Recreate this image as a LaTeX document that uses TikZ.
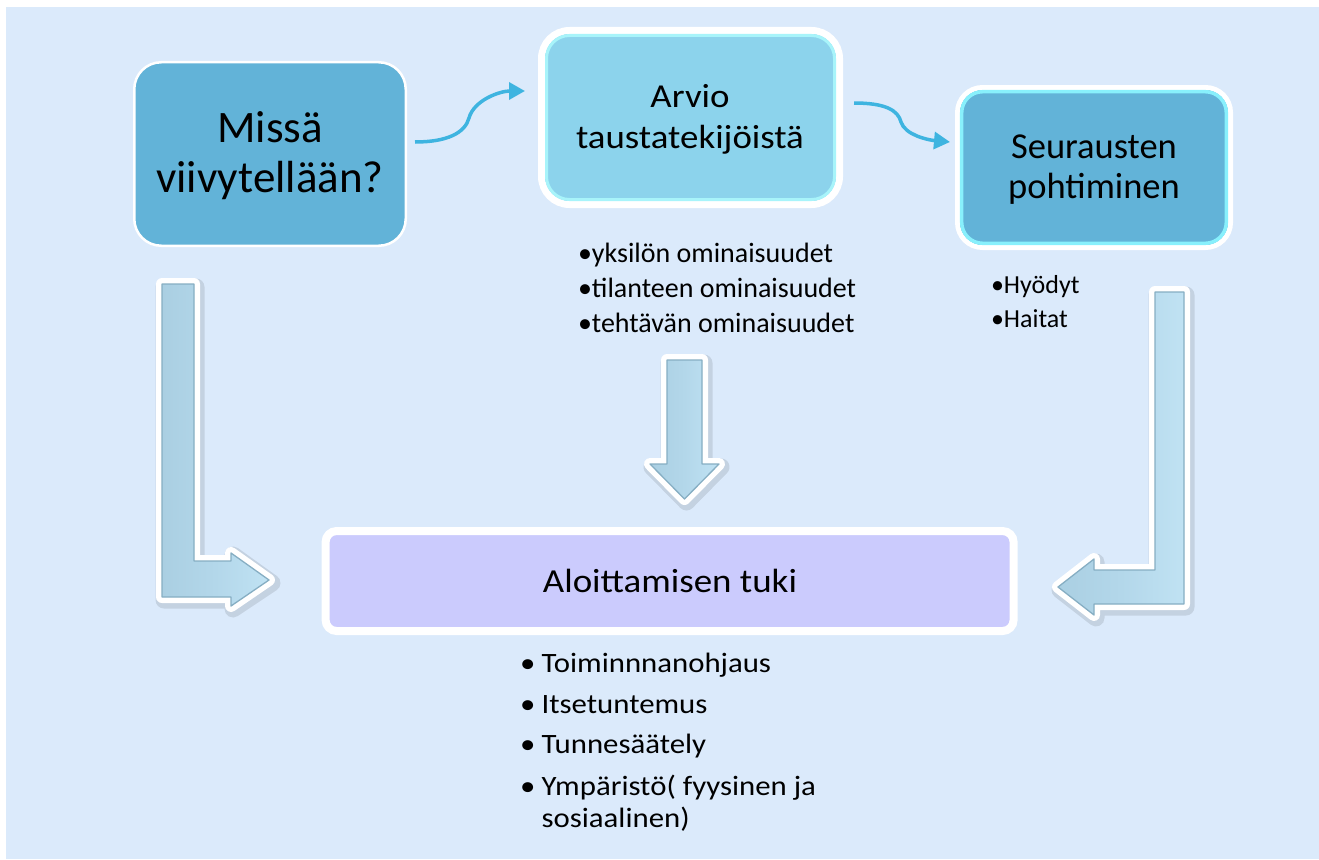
\documentclass[tikz,border=0pt]{standalone}
\usepackage{fontspec}
\setmainfont{Carlito}
\newfontfamily\widefont[FakeStretch=1.1]{Carlito}
\usetikzlibrary{arrows.meta}
\definecolor{bgc}{HTML}{DBEAFB}
\definecolor{darkbox}{HTML}{62B3D8}
\definecolor{lightbox}{HTML}{8CD3EC}
\definecolor{violetbox}{HTML}{CBCBFD}
\definecolor{glowa}{HTML}{A8F4FA}
\definecolor{glowb}{HTML}{88F0FC}
\definecolor{curvecol}{HTML}{3EB4E0}
\definecolor{blockmid}{HTML}{B3D7EA}
\definecolor{blockleft}{HTML}{AACFE2}
\definecolor{blockright}{HTML}{C0E2F3}
\definecolor{blockdark}{HTML}{86AEC3}
\tikzset{
  boxshape/.style={rectangle, outer sep=0pt, inner sep=0pt, draw=white},
  lbl/.style={anchor=base, inner sep=0pt, outer sep=0pt, text=black},
  lst/.style={anchor=base west, inner sep=0pt, outer sep=0pt, text=black},
  curvearrow/.style={draw=curvecol, line width=3.5pt, -{Triangle[length=16pt,width=17pt]}},
  blockshadow/.style={draw=black, opacity=0.10, line width=17pt, line join=round},
  blockrim/.style={draw=white, line width=12pt, line join=round},
  blockbody/.style={left color=blockleft, right color=blockright, middle color=blockmid, draw=blockdark, line width=1.3pt, line join=round},
}
\begin{document}
\begin{tikzpicture}[x=1pt,y=-1pt]
\useasboundingbox (0,0) rectangle (1319,859);
\fill[white] (0,0) rectangle (1319,859);
\fill[bgc] (6,7) rectangle (1319,859);

% boxes
\node[boxshape, fill=darkbox, line width=2.5pt, rounded corners=27pt,
      minimum width=271.5pt, minimum height=183.5pt] (b1) at (270,154) {};
\node[boxshape, fill=lightbox, line width=7pt, rounded corners=28pt,
      minimum width=298pt, minimum height=174pt] (b2) at (690.5,117.5) {};
\draw[glowa, line width=3pt, rounded corners=23pt]
  ([shift={(5,5)}]b2.north west) rectangle ([shift={(-5,-5)}]b2.south east);
\node[boxshape, fill=darkbox, line width=5pt, rounded corners=25pt,
      minimum width=273pt, minimum height=160pt] (b3) at (1094,167.5) {};
\draw[glowb, line width=3.5pt, rounded corners=21pt]
  ([shift={(4.2,4.2)}]b3.north west) rectangle ([shift={(-4.2,-4.2)}]b3.south east);
\node[boxshape, fill=violetbox, line width=8pt, rounded corners=11pt,
      minimum width=688pt, minimum height=100pt] (b4) at (669.6,581) {};

% box texts
\node[lbl, font=\fontsize{45}{50}\selectfont] (t1a) at (270,142) {Missä};
\node[lbl, font=\fontsize{45}{50}\selectfont] (t1b) at (270,192) {viivytellään?};
\node[lbl, font=\widefont\fontsize{33.5}{40}\selectfont] (t2a) at (690,107) {Arvio};
\node[lbl, font=\widefont\fontsize{33.5}{40}\selectfont] (t2b) at (690,148) {taustatekijöistä};
\node[lbl, font=\fontsize{36.5}{40}\selectfont] (t3a) at (1094,158) {Seurausten};
\node[lbl, font=\fontsize{36.5}{40}\selectfont] (t3b) at (1094,198) {pohtiminen};
\node[lbl, font=\widefont\fontsize{33.6}{40}\selectfont] (t4) at (670,592) {Aloittamisen tuki};

% list under box 2
\node[lst, font=\fontsize{28}{34}\selectfont] (l1a) at (578,262) {•yksilön ominaisuudet};
\node[lst, font=\fontsize{28}{34}\selectfont] (l1b) at (578,297) {•tilanteen ominaisuudet};
\node[lst, font=\fontsize{28}{34}\selectfont] (l1c) at (578,332) {•tehtävän ominaisuudet};

% list under box 3
\node[lst, font=\fontsize{26}{34}\selectfont] (l2a) at (991,293) {•Hyödyt};
\node[lst, font=\fontsize{26}{34}\selectfont] (l2b) at (991,327) {•Haitat};

% list under box 4
\node[lst, font=\widefont\fontsize{28}{34}\selectfont] (l3ba) at (520,672) {•};
\node[lst, font=\widefont\fontsize{28}{34}\selectfont] (l3a) at (541.6,672) {Toiminnnanohjaus};
\node[lst, font=\widefont\fontsize{28}{34}\selectfont] (l3bb) at (520,713) {•};
\node[lst, font=\widefont\fontsize{28}{34}\selectfont] (l3b) at (541.6,713) {Itsetuntemus};
\node[lst, font=\widefont\fontsize{28}{34}\selectfont] (l3bc) at (520,753) {•};
\node[lst, font=\widefont\fontsize{28}{34}\selectfont] (l3c) at (541.6,753) {Tunnesäätely};
\node[lst, font=\widefont\fontsize{28}{34}\selectfont] (l3bd) at (520,795) {•};
\node[lst, font=\widefont\fontsize{28}{34}\selectfont] (l3d) at (541.6,795) {Ympäristö( fyysinen ja};
\node[lst, font=\widefont\fontsize{28}{34}\selectfont] (l3e) at (541.6,827) {sosiaalinen)};

% curved connectors
\coordinate (a1s) at (415,142);
\coordinate (a1e) at (525,91);
\draw[curvearrow] (a1s) .. controls (447,142) and (465,133) .. (469,118)
  .. controls (474,100) and (500,91) .. (a1e);
\coordinate (a2s) at (854,103);
\coordinate (a2e) at (950,142);
\draw[curvearrow] (a2s) .. controls (885,103) and (898,110) .. (901,122)
  .. controls (905,135) and (928,140) .. (a2e);

% block arrows: left L
\draw[blockshadow] (164,287) -- (196,287) -- (196,564) -- (233,564) -- (233,555) -- (272,583)
  -- (233,609) -- (233,600) -- (164,600) -- cycle;
\draw[blockrim] (162,284) -- (194,284) -- (194,561) -- (231,561) -- (231,553) -- (269,580)
  -- (231,606) -- (231,597) -- (162,597) -- cycle;
\draw[blockbody] (162,284) -- (194,284) -- (194,561) -- (231,561) -- (231,553) -- (269,580)
  -- (231,606) -- (231,597) -- (162,597) -- cycle;

% block arrow: middle down
\draw[blockshadow] (669,363) -- (704,363) -- (704,467) -- (721,467) -- (686.5,502)
  -- (652,467) -- (669,467) -- cycle;
\draw[blockrim] (667,360) -- (702,360) -- (702,464) -- (719,464) -- (684.5,499)
  -- (650,464) -- (667,464) -- cycle;
\draw[blockbody] (667,360) -- (702,360) -- (702,464) -- (719,464) -- (684.5,499)
  -- (650,464) -- (667,464) -- cycle;

% block arrow: right L
\draw[blockshadow] (1157,295) -- (1186,295) -- (1186,607) -- (1096,607) -- (1096,618)
  -- (1060,590) -- (1096,562) -- (1096,573) -- (1157,573) -- cycle;
\draw[blockrim] (1155,292) -- (1184,292) -- (1184,604) -- (1094,604) -- (1094,615)
  -- (1058,587) -- (1094,559) -- (1094,570) -- (1155,570) -- cycle;
\draw[blockbody] (1155,292) -- (1184,292) -- (1184,604) -- (1094,604) -- (1094,615)
  -- (1058,587) -- (1094,559) -- (1094,570) -- (1155,570) -- cycle;
\end{tikzpicture}
\end{document}
